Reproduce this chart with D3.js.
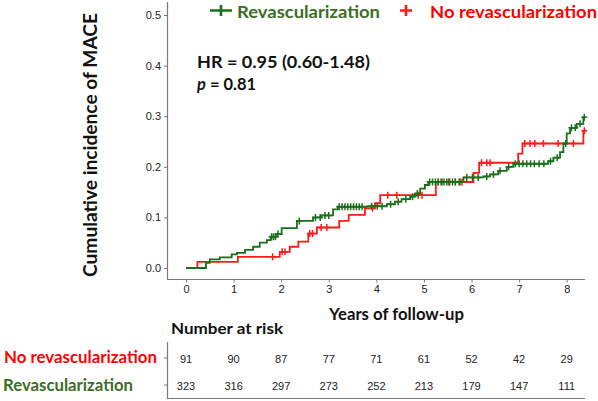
<!DOCTYPE html>
<html><head><meta charset="utf-8">
<script src="https://cdn.jsdelivr.net/npm/d3@7"></script>
<style>body{margin:0;background:#fff}svg{display:block}</style>
</head><body>
<svg id="chart" width="598" height="401"></svg>
<script>
// ---- data ----
const years = [0,1,2,3,4,5,6,7,8];
const yTicks = [0,0.1,0.2,0.3,0.4,0.5];
const groups = ["No revascularization","Revascularization"];
const riskNo  = [91,90,87,77,71,61,52,42,29];
const riskRev = [323,316,297,273,252,213,179,147,111];

const revTimes = [0,0.42,0.50,0.71,0.96,1.07,1.24,1.41,1.55,1.70,1.78,1.89,2.01,2.33,2.67,2.84,3.09,3.19,3.82,4.22,4.39,4.53,4.71,4.81,4.92,5.02,5.09,5.83,6.25,6.39,6.56,6.74,6.88,7.61,7.72,7.86,7.93,8.00,8.07,8.21,8.35];
const revCum   = [0,0.010,0.017,0.021,0.027,0.030,0.036,0.042,0.050,0.055,0.062,0.067,0.079,0.093,0.100,0.104,0.116,0.121,0.122,0.126,0.131,0.136,0.141,0.147,0.157,0.164,0.170,0.179,0.181,0.185,0.192,0.200,0.206,0.211,0.218,0.229,0.246,0.266,0.277,0.285,0.298];
const revCensor = [1.80,1.84,1.88,1.93,2.38,2.72,2.82,2.92,3.00,3.22,3.28,3.34,3.40,3.46,3.52,3.58,3.64,3.70,3.90,4.02,4.12,4.30,4.46,4.62,4.76,4.86,5.12,5.18,5.24,5.30,5.36,5.42,5.48,5.54,5.60,5.66,5.74,5.90,6.02,6.14,6.32,6.46,6.60,6.78,6.92,7.00,7.08,7.16,7.24,7.32,7.42,7.52,7.66,7.80,7.98,8.10,8.18,8.28,8.37];

const noTimes = [0,0.24,1.09,1.97,2.18,2.36,2.57,2.75,3.22,3.42,3.76,3.97,4.08,5.25,6.04,6.16,6.98,7.07,8.35];
const noCum   = [0,0.012,0.022,0.032,0.042,0.052,0.068,0.080,0.093,0.105,0.118,0.128,0.144,0.170,0.188,0.208,0.226,0.246,0.271];
const noCensor = [1.82,2.02,2.08,2.60,2.66,2.84,2.96,3.92,4.24,4.43,4.88,4.96,5.30,5.38,5.52,5.66,5.76,5.80,6.21,6.32,6.39,7.12,7.23,7.33,7.51,7.82,8.14,8.37];
const endTime = 8.37;

// ---- styles ----
const GREEN = "#1a6f1a", GREEN_TXT = "#3b6e26", RED = "#ff1a1a", RED_TXT = "#ff0000";
const BOLD = "Lato, 'Open Sans', sans-serif";
const svg = d3.select("#chart");

const x = d3.scaleLinear().domain([0,8]).range([186,566.7]);
const y = d3.scaleLinear().domain([0,0.5]).range([268,15]);

// axes
const axisColor = "#7a7a7a";
const yAx = svg.append("g").attr("transform","translate(167,0)")
  .call(d3.axisLeft(y).tickValues(yTicks).tickFormat(d3.format(".1f")).tickSize(3).tickPadding(3));
const xAx = svg.append("g").attr("transform","translate(0,279.5)")
  .call(d3.axisBottom(x).tickValues(years).tickFormat(d3.format("d")).tickSize(3).tickPadding(3));
[yAx,xAx].forEach(g=>{
  g.select(".domain").remove();
  g.selectAll("line").attr("stroke",axisColor);
  g.selectAll("text").attr("font-family","'Liberation Sans', Arial, sans-serif").attr("font-size",11).attr("fill","#222");
});
svg.append("path").attr("d","M167.5,2V279.5H585").attr("fill","none").attr("stroke",axisColor).attr("stroke-width",1.2);

// curves
function stepPath(times, cum){
  const pts = times.map((t,i)=>[t,cum[i]]);
  pts.push([endTime, cum[cum.length-1]]);
  return d3.line().x(d=>x(d[0])).y(d=>y(d[1])).curve(d3.curveStepAfter)(pts);
}
function valAt(times, cum, t){
  let v = 0;
  for(let i=0;i<times.length;i++){ if(times[i]<=t) v = cum[i]; }
  return v;
}
function drawGroup(times, cum, cens, color){
  svg.append("path").attr("d",stepPath(times,cum)).attr("fill","none")
    .attr("stroke",color).attr("stroke-width",1.8);
  svg.append("g").selectAll("path").data(cens).join("path")
    .attr("d",t=>{const cx=x(t), cy=y(valAt(times,cum,t));
      return `M${cx-3},${cy}H${cx+3}M${cx},${cy-3.5}V${cy+3.5}`;})
    .attr("stroke",color).attr("stroke-width",1.5).attr("fill","none");
}
drawGroup(noTimes, noCum, noCensor, RED);
drawGroup(revTimes, revCum, revCensor, GREEN);

// legend
function txt(s, xx, yy, size, color, len){
  const t = svg.append("text").attr("x",xx).attr("y",yy).attr("font-family",BOLD)
    .attr("font-weight","bold").attr("font-size",size).attr("fill",color).text(s);
  if(len) t.attr("textLength",len).attr("lengthAdjust","spacingAndGlyphs");
  return t;
}
svg.append("path").attr("d","M210,10.5H232M221,5V16").attr("stroke",GREEN).attr("stroke-width",2.6);
txt(groups[1], 237, 18, 17.5, GREEN_TXT, 143);
svg.append("path").attr("d","M400,10.5H412M406,5V16").attr("stroke",RED).attr("stroke-width",2.6);
txt(groups[0], 430, 18, 17.5, RED_TXT, 167);

// annotation
txt("HR = 0.95 (0.60-1.48)", 197, 68, 17, "#111", 173);
const p = txt("", 197, 90, 17, "#111", 59);
p.append("tspan").attr("font-style","italic").text("p");
p.append("tspan").text(" = 0.81");

// axis titles
txt("Cumulative incidence of MACE", 0, 0, 19.5, "#111", 264)
  .attr("text-anchor","middle").attr("transform","translate(97,145) rotate(-90)");
txt("Years of follow-up", 329, 320, 17.5, "#111", 135);

// risk table
txt("Number at risk", 171, 334, 16, "#111", 112);
txt(groups[0], 4, 363, 17.5, RED_TXT, 153);
txt(groups[1], 3, 390.5, 17.5, GREEN_TXT, 130);
svg.append("path").attr("d","M167.5,342V398.5H585M164,358H167.5M164,385H167.5")
  .attr("fill","none").attr("stroke",axisColor).attr("stroke-width",1.2);
[[riskNo,362.5],[riskRev,390]].forEach(([arr,yy])=>{
  svg.append("g").selectAll("text").data(arr).join("text")
    .attr("x",(d,i)=>x(years[i])).attr("y",yy).attr("text-anchor","middle")
    .attr("font-family","'Liberation Sans', Arial, sans-serif").attr("font-size",11).attr("fill","#222")
    .text(d=>d);
});
</script>
</body></html>
